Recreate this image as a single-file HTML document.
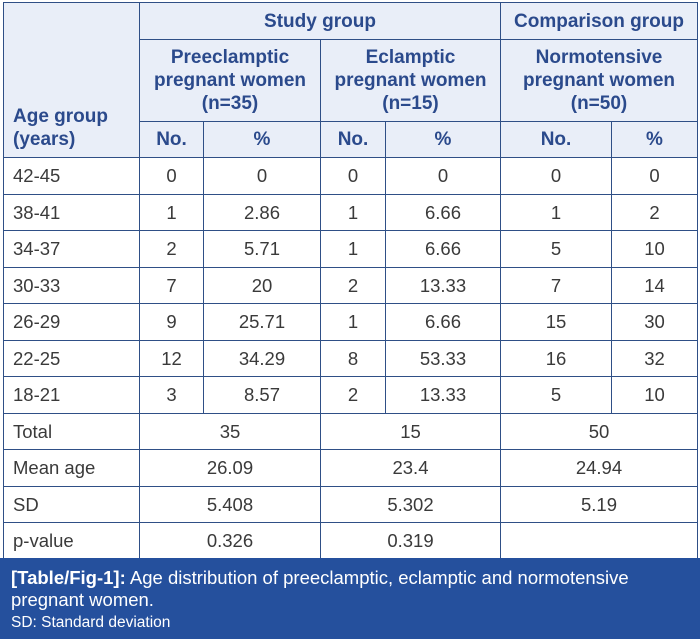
<!DOCTYPE html>
<html><head><style>
body{margin:0;width:700px;height:642px;background:#fff;position:relative;overflow:hidden;font-family:"Liberation Sans",Arial,sans-serif}
table{position:absolute;left:3px;top:2px;border-collapse:collapse;table-layout:fixed}
td{border:1.5px solid #2f4f86;padding:0;text-align:center;color:#3a3a3a;font-size:18.5px;overflow:hidden;white-space:nowrap}
td.l{text-align:left;padding-left:9px}
thead td{background:#e9eef8;color:#2b4a8c;font-weight:bold;font-size:19px;line-height:23px}
.cap{position:absolute;left:0;top:558px;width:700px;height:81px;background:#25509d;color:#fff;box-sizing:border-box;padding:9px 0 0 11px;font-size:18.5px;line-height:21.5px}
</style></head><body>
<table>
<colgroup><col style="width:136px"><col style="width:64px"><col style="width:117px"><col style="width:65px"><col style="width:115px"><col style="width:111px"><col style="width:86px"></colgroup>
<thead>
<tr style="height:37px"><td rowspan="3" class="l" style="vertical-align:bottom;padding-bottom:6px;text-align:left">Age group<br>(years)</td><td colspan="4">Study group</td><td colspan="2">Comparison group</td></tr>
<tr style="height:82px"><td colspan="2">Preeclamptic<br>pregnant women<br>(n=35)</td><td colspan="2">Eclamptic<br>pregnant women<br>(n=15)</td><td colspan="2">Normotensive<br>pregnant women<br>(n=50)</td></tr>
<tr style="height:36px"><td>No.</td><td>%</td><td>No.</td><td>%</td><td>No.</td><td>%</td></tr>
</thead>
<tbody>
<tr style="height:37px"><td class="l">42-45</td><td>0</td><td>0</td><td>0</td><td>0</td><td>0</td><td>0</td></tr>
<tr style="height:36px"><td class="l">38-41</td><td>1</td><td>2.86</td><td>1</td><td>6.66</td><td>1</td><td>2</td></tr>
<tr style="height:37px"><td class="l">34-37</td><td>2</td><td>5.71</td><td>1</td><td>6.66</td><td>5</td><td>10</td></tr>
<tr style="height:36px"><td class="l">30-33</td><td>7</td><td>20</td><td>2</td><td>13.33</td><td>7</td><td>14</td></tr>
<tr style="height:37px"><td class="l">26-29</td><td>9</td><td>25.71</td><td>1</td><td>6.66</td><td>15</td><td>30</td></tr>
<tr style="height:36px"><td class="l">22-25</td><td>12</td><td>34.29</td><td>8</td><td>53.33</td><td>16</td><td>32</td></tr>
<tr style="height:37px"><td class="l">18-21</td><td>3</td><td>8.57</td><td>2</td><td>13.33</td><td>5</td><td>10</td></tr>
<tr style="height:36px"><td class="l">Total</td><td colspan="2">35</td><td colspan="2">15</td><td colspan="2">50</td></tr>
<tr style="height:37px"><td class="l">Mean age</td><td colspan="2">26.09</td><td colspan="2">23.4</td><td colspan="2">24.94</td></tr>
<tr style="height:36px"><td class="l">SD</td><td colspan="2">5.408</td><td colspan="2">5.302</td><td colspan="2">5.19</td></tr>
<tr style="height:37px"><td class="l">p-value</td><td colspan="2">0.326</td><td colspan="2">0.319</td><td colspan="2"></td></tr>
</tbody>
</table>
<div class="cap"><b>[Table/Fig-1]:</b> Age distribution of preeclamptic, eclamptic and normotensive<br>pregnant women.<br><span style="font-size:15.5px">SD: Standard deviation</span></div>
</body></html>
